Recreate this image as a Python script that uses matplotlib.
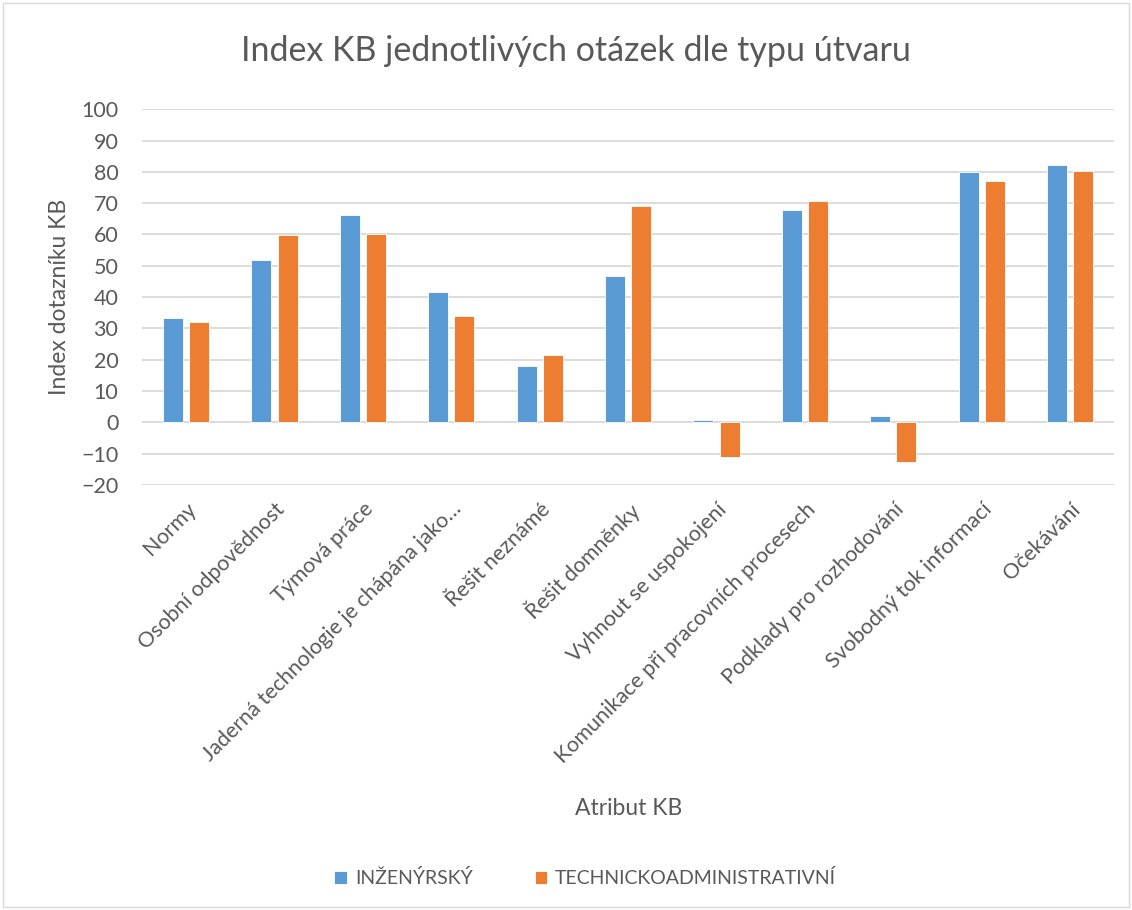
import numpy as np
import matplotlib.pyplot as plt
from matplotlib.patches import Rectangle

plt.rcParams['font.family'] = ['Lato', 'DejaVu Sans']

categories = ["Normy", "Osobní odpovědnost", "Týmová práce",
              "Jaderná technologie je chápána jako…", "Řešit neznámé",
              "Řešit domněnky", "Vyhnout se uspokojení",
              "Komunikace při pracovních procesech", "Podklady pro rozhodování",
              "Svobodný tok informací", "Očekávání"]
inzenyrsky = [33.2, 52.0, 66.3, 41.5, 17.9, 46.8, 0.7, 67.7, 2.0, 79.9, 82.1]
techadmin = [31.9, 59.7, 60.1, 34.1, 21.4, 69.1, -10.9, 70.6, -12.6, 77.2, 80.3]

blue = "#5b9bd5"
orange = "#ed7d31"
grey = "#595959"

fig = plt.figure(figsize=(11.32, 9.1), dpi=100)
ax = fig.add_axes([0.1254, 0.467, 0.859, 0.413])

x = np.arange(len(categories))
w = 0.226
ax.bar(x - 0.148, inzenyrsky, w, color=blue, edgecolor="white", linewidth=0.6,
       label="INŽENÝRSKÝ", zorder=3)
ax.bar(x + 0.148, techadmin, w, color=orange, edgecolor="white", linewidth=0.6,
       label="TECHNICKOADMINISTRATIVNÍ", zorder=3)

ax.set_xlim(-0.5, len(categories) - 0.5)
ax.set_ylim(-20, 100)
ax.set_yticks(range(-20, 101, 10))
ax.grid(axis="y", color="#d9d9d9", linewidth=1.3, zorder=0)
for s in ax.spines.values():
    s.set_visible(False)
ax.tick_params(axis="both", length=0, colors=grey, labelsize=15.5)
ax.tick_params(axis="y", pad=17)
ax.set_xticks(x)
ax.set_xticklabels(categories, rotation=45, ha="right", rotation_mode="anchor")
ax.tick_params(axis="x", pad=10)

fig.suptitle("Index KB jednotlivých otázek dle typu útvaru", x=0.509, y=0.962,
             fontsize=24.5, color=grey)
ax.set_ylabel("Index dotazníku KB", fontsize=16.5, color=grey, labelpad=8)
fig.text(0.555, 0.112, "Atribut KB", fontsize=16.5, color=grey, ha="center", va="center")

fig.legend(loc="center", bbox_to_anchor=(0.517, 0.035), ncol=2, frameon=False,
           fontsize=14, handlelength=0.65, handleheight=0.65, columnspacing=3.2,
           handletextpad=0.4, labelcolor=grey)

fig.patches.append(Rectangle((0.003, 0.003), 0.994, 0.994, transform=fig.transFigure,
                             fill=False, edgecolor="#d9d9d9", linewidth=1))

fig.savefig("out.png", dpi=100)
